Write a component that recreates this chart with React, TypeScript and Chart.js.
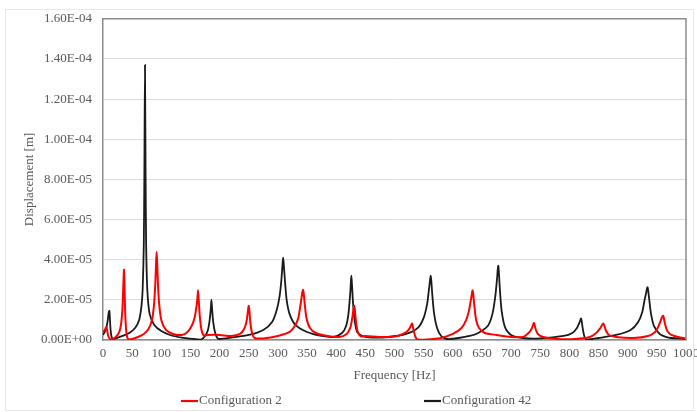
import React, { useEffect, useRef } from "react";
import { Chart, registerables } from "chart.js";

Chart.register(...registerables);

// Displacement values are given in units of 1e-5 m
const UNIT = 1e-5;

const freqConfig2 = [
  0, 3, 5, 6, 7, 9, 12, 16, 22, 28, 31, 33, 34, 35, 36, 37, 38, 40, 43, 50,
  60, 70, 78, 84, 87, 89, 90, 91, 92, 93, 94, 96, 100, 108, 120, 135, 145, 152, 157, 160,
  162, 163, 164, 166, 169, 173, 180, 200, 220, 235, 242, 246, 248, 249, 250, 251, 253, 256, 260, 275,
  300, 320, 330, 335, 338, 340, 342, 343, 344, 346, 349, 355, 365, 385, 405, 418, 424, 427, 429, 430,
  431, 432, 434, 437, 442, 450, 480, 505, 518, 524, 528, 530, 531, 533, 536, 540, 555, 580, 600, 615,
  623, 628, 631, 633, 634, 635, 637, 640, 645, 655, 675, 700, 720, 730, 735, 738, 739, 740, 742, 746,
  755, 780, 810, 835, 846, 852, 856, 858, 860, 863, 868, 880, 910, 935, 947, 953, 957, 959, 961, 962,
  964, 968, 975, 990, 1000,
];
const dispConfig2 = [
  0.4, 0.5, 0.62, 0.65, 0.5, 0.2, 0.05, 0.03, 0.15, 0.4, 0.8, 1.4, 2.0, 2.8, 3.5, 2.6, 1.4, 0.4, 0.05, 0.05,
  0.15, 0.3, 0.55, 1.0, 1.6, 2.4, 3.0, 3.8, 4.4, 3.8, 3.0, 1.9, 1.0, 0.5, 0.3, 0.25, 0.4, 0.7, 1.1, 1.6,
  2.1, 2.48, 2.1, 1.2, 0.5, 0.22, 0.25, 0.25, 0.2, 0.3, 0.55, 0.9, 1.3, 1.55, 1.7, 1.5, 0.8, 0.3, 0.1, 0.08,
  0.2, 0.4, 0.75, 1.1, 1.6, 2.0, 2.4, 2.5, 2.4, 1.8, 1.1, 0.6, 0.35, 0.2, 0.15, 0.3, 0.6, 1.0, 1.4, 1.6,
  1.7, 1.5, 0.9, 0.4, 0.18, 0.2, 0.15, 0.2, 0.35, 0.5, 0.7, 0.82, 0.75, 0.45, 0.15, 0.02, 0.02, 0.1, 0.3, 0.6,
  1.0, 1.5, 2.0, 2.35, 2.47, 2.3, 1.7, 1.0, 0.6, 0.35, 0.25, 0.15, 0.15, 0.35, 0.55, 0.78, 0.85, 0.8, 0.55, 0.3,
  0.15, 0.05, 0.05, 0.15, 0.35, 0.55, 0.75, 0.82, 0.7, 0.45, 0.25, 0.15, 0.1, 0.2, 0.4, 0.7, 1.0, 1.15, 1.2, 1.1,
  0.8, 0.45, 0.25, 0.12, 0.08,
];

const freqConfig42 = [
  0, 3, 6, 8, 9, 10, 11, 12, 13, 15, 18, 25, 35, 45, 55, 62, 66, 68, 70, 71,
  72, 73, 74, 76, 80, 88, 100, 115, 135, 155, 168, 175, 180, 183, 185, 186, 187, 189, 192, 196,
  200, 220, 250, 275, 290, 298, 303, 306, 308, 309, 310, 312, 315, 320, 330, 350, 375, 395, 410, 417,
  421, 424, 425, 426, 427, 429, 432, 436, 445, 460, 490, 520, 540, 550, 556, 559, 561, 562, 563, 565,
  568, 573, 580, 590, 610, 640, 660, 668, 673, 676, 677, 678, 679, 681, 684, 690, 700, 720, 750, 790,
  805, 813, 817, 819, 820, 821, 823, 826, 830, 850, 880, 905, 918, 925, 929, 932, 933, 934, 935, 937,
  940, 945, 955, 970, 985, 1000,
];
const dispConfig42 = [
  0.25, 0.4, 0.65, 0.95, 1.2, 1.4, 1.45, 1.0, 0.5, 0.12, 0.05, 0.12, 0.22, 0.35, 0.6, 1.0, 1.7, 2.5, 4.8, 8.5,
  13.7, 8.5, 4.8, 2.5, 1.3, 0.75, 0.45, 0.25, 0.12, 0.05, 0.02, 0.2, 0.5, 1.0, 1.6, 2.0, 1.6, 0.9, 0.4, 0.1,
  0.05, 0.12, 0.25, 0.5, 0.9, 1.5, 2.2, 3.0, 3.8, 4.1, 3.8, 3.0, 2.0, 1.3, 0.75, 0.4, 0.2, 0.15, 0.35, 0.7,
  1.3, 2.3, 2.8, 3.2, 2.8, 1.8, 0.9, 0.4, 0.2, 0.12, 0.15, 0.3, 0.6, 1.1, 1.8, 2.5, 3.0, 3.2, 3.0, 2.2,
  1.3, 0.6, 0.2, 0.05, 0.1, 0.3, 0.7, 1.3, 2.2, 3.1, 3.5, 3.7, 3.4, 2.4, 1.4, 0.6, 0.25, 0.1, 0.08, 0.2,
  0.35, 0.6, 0.85, 1.0, 1.08, 0.95, 0.55, 0.15, 0.02, 0.1, 0.25, 0.5, 0.9, 1.4, 2.0, 2.4, 2.55, 2.63, 2.5, 2.0,
  1.3, 0.7, 0.3, 0.12, 0.08, 0.05,
];

const yTickLabels = [
  "0.00E+00", "2.00E-05", "4.00E-05", "6.00E-05", "8.00E-05",
  "1.00E-04", "1.20E-04", "1.40E-04", "1.60E-04",
];

const seriesNames = ["Configuration 2", "Configuration 42"];
const seriesColors = ["#ff0000", "#1a1a1a"];

const FONT = "'Liberation Serif', 'Times New Roman', serif";
const TEXT_COLOR = "#595959";

const framePlugin = {
  id: "frameAndLegend",
  afterDraw(chart: any) {
    const { ctx, chartArea } = chart;
    ctx.save();
    // plot area border (top & right)
    ctx.strokeStyle = "#8c8c8c";
    ctx.lineWidth = 1.5;
    ctx.beginPath();
    ctx.moveTo(chartArea.left, chartArea.top);
    ctx.lineTo(chartArea.right, chartArea.top);
    ctx.lineTo(chartArea.right, chartArea.bottom);
    ctx.stroke();
    // faint outer frame
    ctx.strokeStyle = "#e8e8e8";
    ctx.lineWidth = 1;
    ctx.strokeRect(5.5, 9.5, 688, 401);
    // legend
    ctx.font = `13px ${FONT}`;
    ctx.textBaseline = "middle";
    ctx.textAlign = "left";
    const items = [
      { x: 181, lineEnd: 198 },
      { x: 424, lineEnd: 441 },
    ];
    items.forEach((it, i) => {
      ctx.strokeStyle = seriesColors[i];
      ctx.lineWidth = 2.2;
      ctx.beginPath();
      ctx.moveTo(it.x, 401);
      ctx.lineTo(it.lineEnd, 401);
      ctx.stroke();
      ctx.fillStyle = TEXT_COLOR;
      ctx.fillText(seriesNames[i], it.lineEnd + 1, 401);
    });
    ctx.restore();
  },
};

export default function App() {
  const ref = useRef<HTMLCanvasElement>(null);
  useEffect(() => {
    document.body.style.margin = "0";
    const canvas = ref.current!;
    const toPoints = (fs: number[], ds: number[]) =>
      fs.map((f, i) => ({ x: f, y: ds[i] * UNIT }));
    const chart = new Chart(canvas, {
      type: "line",
      data: {
        datasets: [
          {
            label: seriesNames[0],
            data: toPoints(freqConfig2, dispConfig2),
            borderColor: seriesColors[0],
            borderWidth: 2,
            pointRadius: 0,
            tension: 0.25,
            fill: false,
          },
          {
            label: seriesNames[1],
            data: toPoints(freqConfig42, dispConfig42),
            borderColor: seriesColors[1],
            borderWidth: 1.8,
            pointRadius: 0,
            tension: 0.25,
            fill: false,
          },
        ],
      },
      options: {
        responsive: false,
        animation: false,
        layout: { padding: { top: 16, right: 11, bottom: 22, left: 0 } },
        plugins: {
          legend: { display: false },
          tooltip: { enabled: false },
        },
        scales: {
          x: {
            type: "linear",
            min: 0,
            max: 1000,
            ticks: {
              stepSize: 50,
              color: TEXT_COLOR,
              font: { family: FONT, size: 13 },
              padding: 6,
              maxRotation: 0,
              autoSkip: false,
              callback: (v: any) => String(Math.round(Number(v))),
            },
            grid: { display: false, drawTicks: false },
            border: { display: true, color: "#8c8c8c", width: 1.5 },
            title: {
              display: true,
              text: "Frequency [Hz]",
              color: TEXT_COLOR,
              font: { family: FONT, size: 13 },
              padding: { top: 0, bottom: 7 },
            },
            afterFit(scale: any) {
              scale.height = 50;
              scale.paddingLeft = 0;
              scale.paddingRight = 0;
            },
          },
          y: {
            type: "linear",
            min: 0,
            max: 1.6e-4,
            ticks: {
              stepSize: 2e-5,
              color: TEXT_COLOR,
              font: { family: FONT, size: 13 },
              padding: 11,
              callback: (v: any) => yTickLabels[Math.round(Number(v) / 2e-5)],
            },
            grid: { color: "#dcdcdc", lineWidth: 1, drawTicks: false },
            border: { display: true, color: "#8c8c8c", width: 1.5 },
            title: {
              display: true,
              text: "Displacement [m]",
              color: TEXT_COLOR,
              font: { family: FONT, size: 13 },
              padding: { top: 22, bottom: 0 },
            },
            afterFit(scale: any) {
              scale.width = 103;
            },
          },
        },
      },
      plugins: [framePlugin],
    } as any);
    return () => chart.destroy();
  }, []);
  return (
    <div style={{ position: "absolute", left: 0, top: 0, width: 697, height: 412 }}>
      <canvas ref={ref} width={697} height={412} style={{ display: "block" }} />
    </div>
  );
}
